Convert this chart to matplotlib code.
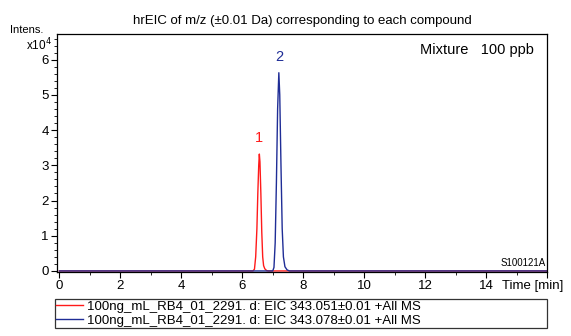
import numpy as np
import matplotlib.pyplot as plt
from matplotlib.ticker import MultipleLocator

plt.rcParams['font.family'] = ['Liberation Sans', 'DejaVu Sans']

# Retention time [min] and intensity [x10^4]
t_red = [0.0, 6.35, 6.40, 6.44, 6.48, 6.51, 6.54, 6.56, 6.58, 6.61, 6.64, 6.67, 6.70, 6.74, 6.80, 6.85, 16.0]
i_red = [0.0, 0.0, 0.05, 0.4, 1.2, 2.2, 3.0, 3.32, 3.1, 2.2, 1.1, 0.4, 0.15, 0.06, 0.01, 0.0, 0.0]

t_blue = [0.0, 7.00, 7.04, 7.08, 7.12, 7.16, 7.20, 7.23, 7.27, 7.31, 7.35, 7.40, 7.47, 7.55, 16.0]
i_blue = [0.0, 0.0, 0.1, 0.8, 2.5, 4.6, 5.63, 5.0, 3.0, 1.2, 0.4, 0.12, 0.03, 0.0, 0.0]

labels = ["100ng_mL_RB4_01_2291. d: EIC 343.051\u00b10.01 +All MS",
          "100ng_mL_RB4_01_2291. d: EIC 343.078\u00b10.01 +All MS"]
peak_names = ["1", "2"]
xticks = [0, 2, 4, 6, 8, 10, 12, 14, 16]
xticklabels = ["0", "2", "4", "6", "8", "10", "12", "14", ""]
red = "#ff1a1a"
blue = "#1f2d96"

fig = plt.figure(figsize=(5.71, 3.36), dpi=100)
ax = fig.add_axes([57/571, 1 - 272/336, 490/571, 238/336])

l1, = ax.plot(t_red, i_red, color=red, lw=1.0)
l2, = ax.plot(t_blue, i_blue, color=blue, lw=1.0)

# peak numbers
ax.text(t_red[i_red.index(max(i_red))], max(i_red) + 0.25, peak_names[0],
        color=red, fontsize=10.5, ha="center", va="bottom")
ax.text(t_blue[i_blue.index(max(i_blue))], max(i_blue) + 0.25, peak_names[1],
        color=blue, fontsize=10.5, ha="center", va="bottom")

ax.set_xlim(-0.08, 16.0)
ax.set_ylim(-0.03, 6.73)
ax.set_xticks(xticks)
ax.set_xticklabels(xticklabels)
ax.xaxis.set_minor_locator(MultipleLocator(1))
ax.yaxis.set_major_locator(MultipleLocator(1))
ax.yaxis.set_minor_locator(MultipleLocator(0.2))
ax.tick_params(which="major", length=4, width=0.8, labelsize=9.5, pad=2)
ax.tick_params(which="minor", length=2, width=0.6)
for s in ax.spines.values():
    s.set_linewidth(0.9)

ax.set_title("hrEIC of m/z (\u00b10.01 Da) corresponding to each compound",
             fontsize=9.5, pad=7)
ax.text(0.973, 0.962, "Mixture   100 ppb", transform=ax.transAxes,
        ha="right", va="top", fontsize=10.5)
ax.text(0.997, 0.015, "S100121A", transform=ax.transAxes,
        ha="right", va="bottom", fontsize=7)

fig.text(10/571, 1 - 30/336, "Intens.", fontsize=8, ha="left", va="center")
fig.text(52/571, 1 - 45/336, "x10$^4$", fontsize=8.5, ha="right", va="center")
fig.text(502/571, 1 - 286/336, "Time [min]", fontsize=9.5, ha="left", va="center")

leg = fig.legend([l1, l2], labels, loc="upper left",
                 bbox_to_anchor=(55/571, 1 - 333/336, 492/571, 34/336),
                 mode="expand", fontsize=9.5, frameon=True, fancybox=False,
                 handlelength=2.0, handletextpad=0.35, borderpad=0.1,
                 labelspacing=0.15, borderaxespad=0)
leg.get_frame().set_edgecolor("black")
leg.get_frame().set_linewidth(0.9)

fig.savefig("out.png", dpi=100)
